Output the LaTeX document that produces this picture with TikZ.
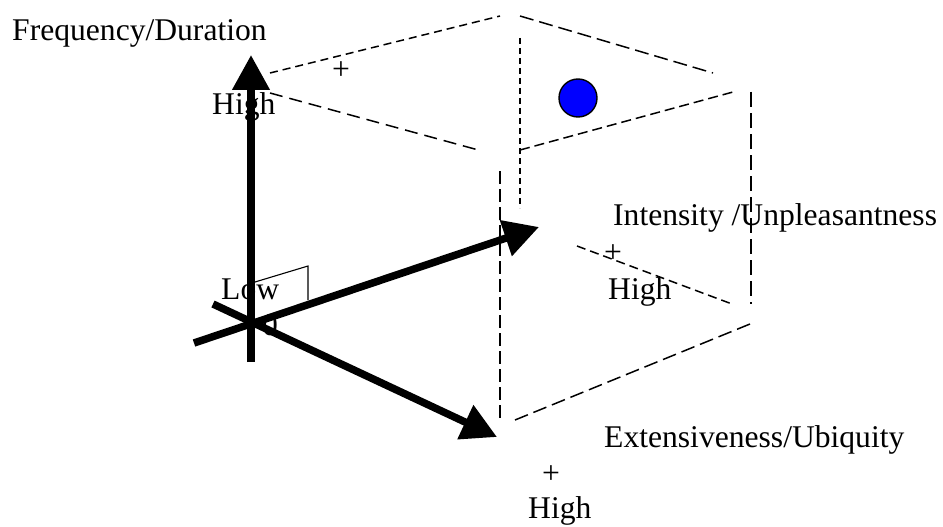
\documentclass[tikz,border=0pt]{standalone}
\usepackage{fontspec}
\setmainfont{Liberation Serif}
\usetikzlibrary{arrows.meta}
\begin{document}
\begin{tikzpicture}[x=1pt,y=-1pt,
  lbl/.style={inner sep=0pt, anchor=base west, font=\fontsize{31.6}{36}\selectfont},
  plus/.style={inner sep=0pt, anchor=center, font=\fontsize{31.6}{36}\selectfont},
  axis/.style={line width=7.5pt, -{Triangle[length=35pt,width=36pt]}},
  edge/.style={line width=1.5pt},
  thin/.style={line width=1.1pt}
]
\useasboundingbox (0,0) rectangle (943,527);

% cube corner coordinates
\coordinate (tl1) at (270,73);
\coordinate (tt1) at (500,16);
\coordinate (tt2) at (520,16);
\coordinate (tr1) at (713,73);
\coordinate (tl2) at (270,93);
\coordinate (tm1) at (482,151);
\coordinate (tm2) at (520,150);
\coordinate (tr2) at (733,92);
\coordinate (v1a) at (520,38);
\coordinate (v1b) at (520,208);
\coordinate (v2a) at (500,171);
\coordinate (v2b) at (500,420);
\coordinate (v3a) at (751,92);
\coordinate (v3b) at (751,304);
\coordinate (r1a) at (577,246);
\coordinate (r1b) at (732,304);
\coordinate (r2a) at (750,324);
\coordinate (r2b) at (515,420);

% dashed box edges
\draw[edge, dash pattern=on 8pt off 5pt] (tl1) -- (tt1);
\draw[edge, dash pattern=on 14pt off 6pt] (tt2) -- (tr1);
\draw[edge, dash pattern=on 13pt off 7pt] (tl2) -- (tm1);
\draw[edge, dash pattern=on 10pt off 5pt] (tm2) -- (tr2);
\draw[thin, dash pattern=on 6pt off 4pt] (v1a) -- (v1b);
\draw[edge, dash pattern=on 13pt off 5pt] (v2a) -- (v2b);
\draw[edge, dash pattern=on 15pt off 6pt] (v3a) -- (v3b);
\draw[edge, dash pattern=on 9pt off 5pt] (r1a) -- (r1b);
\draw[edge, dash pattern=on 14pt off 6pt] (r2a) -- (r2b);

% blue point
\node[circle, draw=black, line width=1.4pt, fill=blue, minimum size=38pt, inner sep=0pt] (pt) at (578,98) {};

% labels under the axes
\node[lbl] (low) at (221,299) {Low};
\node[lbl] (zero) at (262,335) {0};
\node[lbl] (hiF) at (212,114) {High};

% small marker
\coordinate (m1) at (255,282);
\coordinate (m2) at (308,266);
\coordinate (m3) at (308,300);
\draw[thin] (m1) -- (m2) -- (m3);

% axes
\coordinate (O) at (251,322);
\coordinate (fS) at (251,362);
\coordinate (fE) at (251,55);
\coordinate (iS) at (194,343);
\coordinate (iE) at (539,227);
\coordinate (eS) at (213,304);
\coordinate (eE) at (497,437);
\draw[axis] (fS) -- (fE);
\draw[axis] (iS) -- (iE);
\draw[axis] (eS) -- (eE);

% other labels
\node[lbl] (freq) at (12,41) {Frequency/Duration};
\node[plus] (p1) at (341,71) {+};
\node[lbl] (inten) at (613,225) {Intensity /Unpleasantness};
\node[plus] (p2) at (613,254) {+};
\node[lbl] (hiI) at (608,299) {High};
\node[lbl] (ext) at (604,447) {Extensiveness/Ubiquity};
\node[plus] (p3) at (551,475) {+};
\node[lbl] (hiE) at (528,518) {High};

% right vertical redrawn over the label (as in the reference)
\draw[edge, dash pattern=on 15pt off 6pt] (v3a) -- (v3b);
\end{tikzpicture}
\end{document}
